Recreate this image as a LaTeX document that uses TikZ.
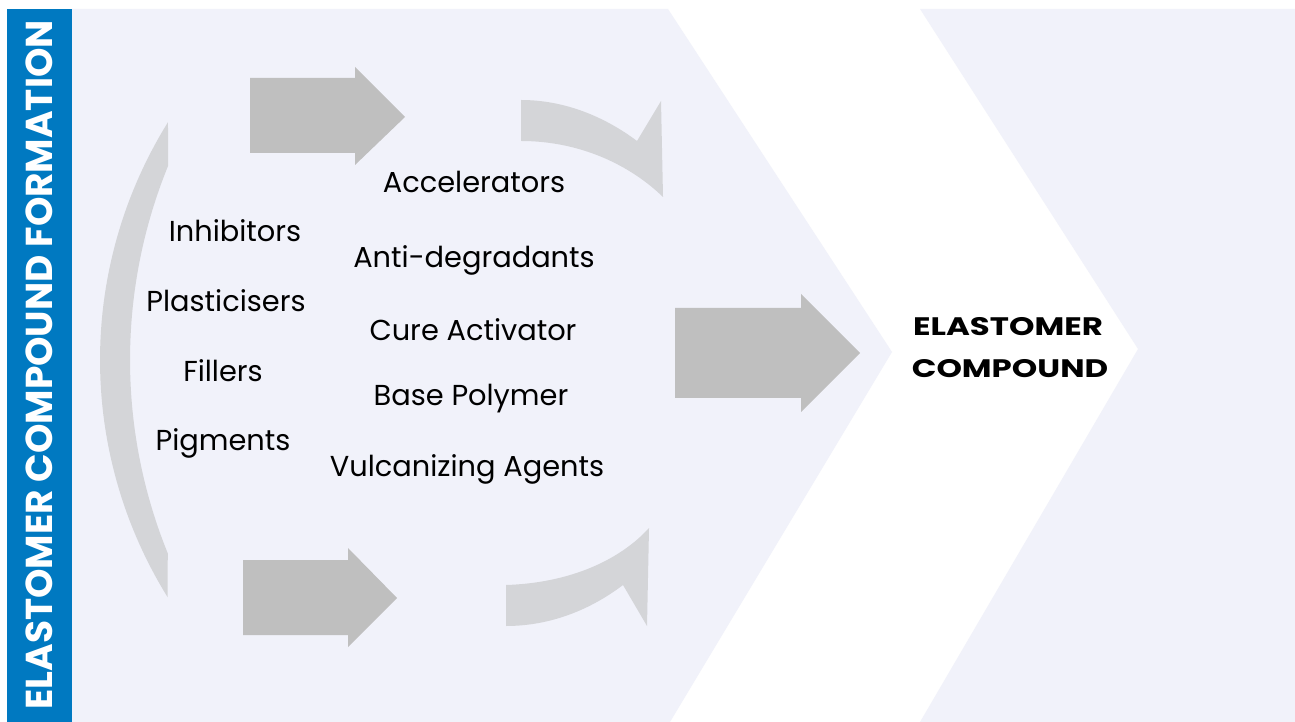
\documentclass[tikz,border=0pt]{standalone}
\usepackage{fontspec}
\setmainfont{Poppins}
\newfontfamily\headfont[FakeStretch=1.28]{Poppins}
\definecolor{bgl}{HTML}{F1F2FA}
\definecolor{barblue}{HTML}{0079C1}
\definecolor{arrowgray}{HTML}{BFBFBF}
\definecolor{curvegray}{HTML}{D4D5D8}
\tikzset{
  lbl/.style={anchor=base, inner sep=0pt, font=\fontsize{8.2pt}{10pt}\selectfont, text=black},
  headlbl/.style={anchor=base, inner sep=0pt, font=\headfont\bfseries\fontsize{7.2pt}{9pt}\selectfont, text=black},
  vlbl/.style={rotate=90, inner sep=0pt, font=\bfseries\fontsize{10.65pt}{12pt}\selectfont, text=white},
}
\begin{document}
\begin{tikzpicture}[x=0.01cm, y=-0.01cm]
\useasboundingbox (0,0) rectangle (1295,722);
\fill[white] (0,0) rectangle (1295,722);
% background chevrons
\fill[bgl] (72,9) -- (668,9) -- (892,352) -- (670,722) -- (72,722) -- cycle;
\fill[bgl] (920,9) -- (1295,9) -- (1295,722) -- (920,722) -- (1138,349) -- cycle;
% blue bar
\fill[barblue] (7,9) rectangle (72,722);
\node[vlbl] (vtitle) at (39,365) {ELASTOMER COMPOUND FORMATION};
% straight arrows
\fill[arrowgray] (250,78) -- (355,78) -- (355,67) -- (405,117) -- (355,165) -- (355,153) -- (250,153) -- cycle;
\fill[arrowgray] (243,560) -- (348,560) -- (348,548) -- (397,598) -- (348,647) -- (348,635) -- (243,635) -- cycle;
\fill[arrowgray] (675,308) -- (801,308) -- (801,294) -- (860,353) -- (801,412) -- (801,398) -- (675,398) -- cycle;
% curved arrows
\fill[curvegray] (521,100) .. controls (565,100) and (605,117) .. (637,141) -- (661,101) -- (663,197)
  .. controls (630,165) and (580,141) .. (521,141) -- cycle;
\fill[curvegray] (506,585) .. controls (570,583) and (620,560) .. (649,528) -- (647,626) -- (623,585)
  .. controls (590,610) and (550,626) .. (506,626) -- cycle;
\fill[curvegray] plot[domain=211.9:148.2, samples=60] ({550+450*cos(\x)}, {360+450*sin(\x)})
  -- plot[domain=157.9:202.2, samples=60] ({644+514*cos(\x)}, {360+514*sin(\x)}) -- cycle;
% labels
\node[lbl] (acc) at (474,193) {Accelerators};
\node[lbl] (anti) at (474,268) {Anti-degradants};
\node[lbl] (cure) at (473,341) {Cure Activator};
\node[lbl] (base) at (471,406) {Base Polymer};
\node[lbl] (vulc) at (467,476) {Vulcanizing Agents};
\node[lbl] (inh) at (235,242) {Inhibitors};
\node[lbl] (plas) at (226,312) {Plasticisers};
\node[lbl] (fill) at (223,382) {Fillers};
\node[lbl] (pig) at (223,450) {Pigments};
\node[headlbl] (comp1) at (1008,336) {ELASTOMER};
\node[headlbl] (comp2) at (1010,378) {COMPOUND};
\end{tikzpicture}
\end{document}
